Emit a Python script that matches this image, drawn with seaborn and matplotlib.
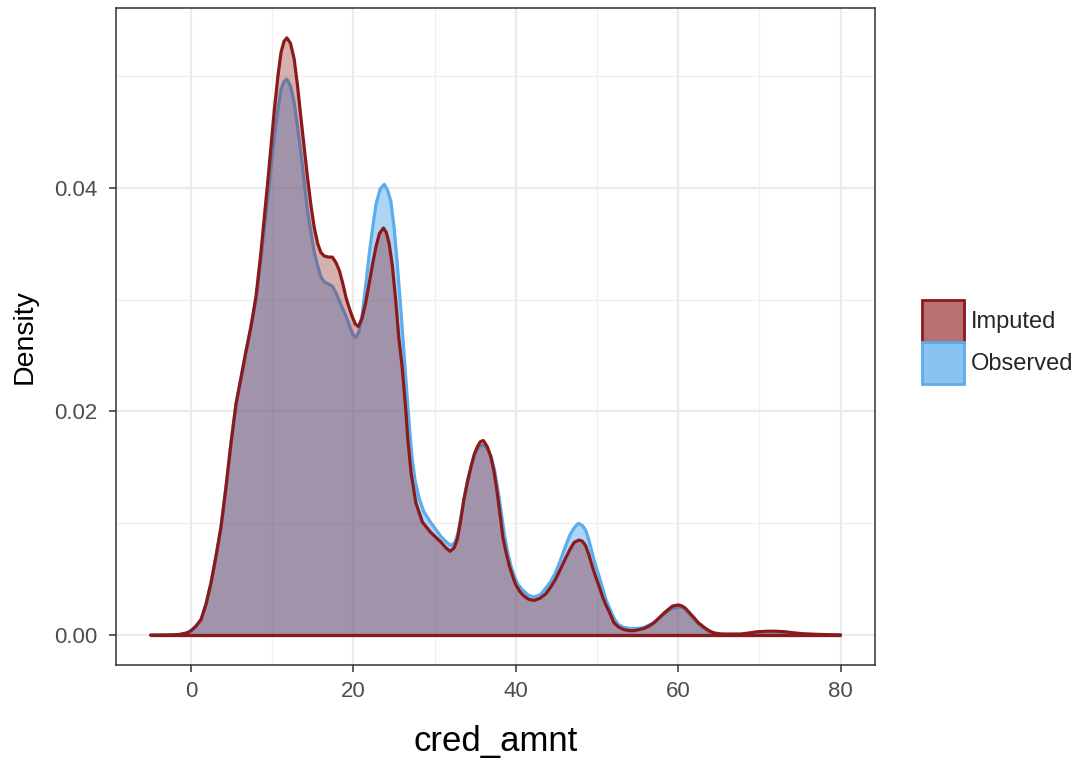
import numpy as np
import pandas as pd
import matplotlib
matplotlib.use("Agg")
import matplotlib.pyplot as plt
from matplotlib.patches import Patch
import seaborn as sns

# ---------------- data ----------------
series_names = ["Imputed", "Observed"]

x_imputed = [-5, -3, -1.5, -0.5, 0, 0.6, 1.23, 1.85, 2.46, 3.08, 3.69, 4.31, 4.92, 5.54,
             6.15, 6.77, 7.38, 8.0, 8.6, 9.0, 9.44, 9.85, 10.26, 10.7, 11.08, 11.45, 11.8,
             12.25, 12.7, 13.1, 13.54, 13.95, 14.36, 14.77, 15.18, 15.6, 16.0, 16.4, 16.9,
             17.4, 17.85, 18.26, 18.67, 19.08, 19.5, 19.9, 20.25, 20.6, 21.05, 21.5, 21.93,
             22.36, 22.8, 23.2, 23.7, 24.05, 24.4, 24.8, 25.2, 25.6, 26.0, 26.46, 26.7, 27.1,
             27.7, 28.5, 29.5, 30.8, 31.4, 31.9, 32.4, 32.8, 33.2, 33.6, 34.05, 34.5, 34.9,
             35.3, 35.65, 36.0, 36.45, 36.9, 37.3, 37.7, 38.15, 38.4, 38.8, 39.2, 39.6, 40.0,
             40.5, 41.0, 41.6, 42.25, 43.0, 43.7, 44.3, 44.9, 45.5, 46.15, 46.7, 47.2, 47.8,
             48.2, 48.6, 49.0, 49.4, 49.8, 50.25, 50.7, 51.1, 51.5, 52.1, 52.7, 53.3, 54.0,
             54.6, 55.2, 55.8, 56.4, 57.0, 57.6, 58.3, 58.8, 59.3, 60.0, 60.5, 60.9, 61.4,
             61.9, 62.5, 63.2, 63.8, 64.4, 65.2, 66.0, 67.7, 68.8, 69.7, 71.0, 72.0, 73.2,
             74.3, 75.5, 76.8, 78.5, 80]
dens_imputed = [0, 0.00001, 0.00005, 0.0002, 0.0004, 0.0008, 0.0014, 0.0028, 0.0047, 0.0071,
                0.0097, 0.0133, 0.0172, 0.0207, 0.0230, 0.0254, 0.0276, 0.0303, 0.0342,
                0.0372, 0.0405, 0.0438, 0.0470, 0.0500, 0.0521, 0.0531, 0.0534, 0.0529,
                0.0515, 0.0492, 0.0462, 0.0435, 0.0408, 0.0384, 0.0364, 0.0350, 0.0342,
                0.0339, 0.0338, 0.0338, 0.0333, 0.0326, 0.0315, 0.0302, 0.0292, 0.0284,
                0.0278, 0.0276, 0.0283, 0.0297, 0.0314, 0.0332, 0.0348, 0.0359, 0.0364,
                0.0360, 0.0350, 0.0330, 0.0300, 0.0265, 0.0240, 0.0200, 0.0175, 0.0145,
                0.0118, 0.0101, 0.0092, 0.0083, 0.0078, 0.0075, 0.0078, 0.0086, 0.0102,
                0.0121, 0.0137, 0.0151, 0.0162, 0.0169, 0.0173, 0.0174, 0.0169, 0.0160,
                0.0147, 0.0128, 0.0103, 0.0088, 0.0074, 0.0062, 0.0053, 0.0045, 0.0039,
                0.0035, 0.0032, 0.0031, 0.0033, 0.0037, 0.0043, 0.0050, 0.0059, 0.0069,
                0.0077, 0.0083, 0.0085, 0.0084, 0.0080, 0.0072, 0.0062, 0.0053, 0.0044,
                0.0034, 0.0027, 0.0021, 0.0011, 0.0007, 0.0005, 0.0004, 0.0004, 0.0005,
                0.0006, 0.0008, 0.0011, 0.0015, 0.0020, 0.0023, 0.0026, 0.0027, 0.0026,
                0.0024, 0.0020, 0.0016, 0.0011, 0.0007, 0.0004, 0.0002, 0.0001, 0.0001,
                0.0001, 0.0002, 0.0003, 0.00035, 0.00035, 0.0003, 0.0002, 0.00012, 0.00008,
                0.00004, 0.00002]

x_observed = [-5, -3, -1.5, -0.5, 0, 0.6, 1.23, 1.85, 2.46, 3.08, 3.69, 4.31, 4.92, 5.54,
              6.15, 6.77, 7.38, 8.0, 8.6, 9.0, 9.44, 9.85, 10.26, 10.7, 11.08, 11.45, 11.8,
              12.25, 12.7, 13.1, 13.54, 13.95, 14.36, 14.77, 15.18, 15.6, 16.0, 16.4, 16.9,
              17.4, 17.85, 18.26, 18.67, 19.08, 19.5, 19.9, 20.3, 20.7, 21.1, 21.5, 21.95,
              22.4, 22.8, 23.3, 23.8, 24.2, 24.6, 25.0, 25.4, 25.8, 26.2, 26.75, 27.2, 27.6,
              28.1, 28.7, 29.5, 30.2, 30.8, 31.5, 32.0, 32.5, 32.9, 33.3, 33.7, 34.1, 34.6,
              35.0, 35.5, 36.0, 36.5, 37.0, 37.4, 37.8, 38.2, 38.6, 39.0, 39.4, 39.8, 40.3,
              40.9, 41.5, 42.2, 43.0, 43.7, 44.3, 44.9, 45.5, 46.15, 46.7, 47.2, 47.7, 48.2,
              48.6, 49.0, 49.4, 49.8, 50.25, 50.7, 51.1, 51.5, 52.1, 52.7, 53.3, 54.0, 54.6,
              55.2, 55.8, 56.4, 57.0, 57.6, 58.3, 58.8, 59.3, 60.0, 60.5, 60.9, 61.4, 61.9,
              62.5, 63.2, 63.8, 64.4, 65.2, 66.0, 68.0, 70.0, 72.0, 75.0, 80]
dens_observed = [0, 0.00001, 0.00005, 0.0002, 0.0004, 0.0008, 0.0014, 0.0028, 0.0047, 0.0071,
                 0.0097, 0.0133, 0.0172, 0.0207, 0.0230, 0.0254, 0.0276, 0.0300, 0.0335,
                 0.0362, 0.0390, 0.0418, 0.0446, 0.0470, 0.0488, 0.0495, 0.0497, 0.0491,
                 0.0476, 0.0455, 0.0431, 0.0404, 0.0378, 0.0360, 0.0342, 0.0330, 0.0320,
                 0.0316, 0.0314, 0.0312, 0.0306, 0.0299, 0.0292, 0.0285, 0.0277, 0.0269,
                 0.0266, 0.0272, 0.0288, 0.0312, 0.0341, 0.0366, 0.0386, 0.0399, 0.0403,
                 0.0398, 0.0388, 0.0365, 0.0332, 0.0295, 0.0255, 0.0200, 0.0160, 0.0138,
                 0.0122, 0.0110, 0.0101, 0.0094, 0.0088, 0.0083, 0.0080, 0.0083, 0.0092,
                 0.0108, 0.0125, 0.0140, 0.0154, 0.0163, 0.0169, 0.0170, 0.0167, 0.0159,
                 0.0147, 0.0130, 0.0110, 0.0090, 0.0074, 0.0062, 0.0053, 0.0045, 0.0040,
                 0.0036, 0.0034, 0.0036, 0.0042, 0.0048, 0.0056, 0.0067, 0.0080, 0.0090,
                 0.0096, 0.0100, 0.0098, 0.0094, 0.0085, 0.0074, 0.0063, 0.0053, 0.0042,
                 0.0032, 0.0025, 0.0015, 0.0009, 0.0007, 0.0006, 0.0006, 0.0006, 0.0007,
                 0.0009, 0.0011, 0.0015, 0.0019, 0.0022, 0.0024, 0.0025, 0.0025, 0.0023,
                 0.0019, 0.0015, 0.0010, 0.0006, 0.0003, 0.0002, 0.0001, 0.00005, 0.00003,
                 0.00002, 0.00002, 0.00001, 0]

x_ticks = [0, 20, 40, 60, 80]
x_tick_labels = ["0", "20", "40", "60", "80"]
y_ticks = [0.00, 0.02, 0.04]
y_tick_labels = ["0.00", "0.02", "0.04"]
x_title = "cred_amnt"
y_title = "Density"

# ---------------- styling ----------------
line_colors = {"Imputed": "#8B1A1A", "Observed": "#5CACEE"}
fill_alphas = {"Imputed": 0.35, "Observed": 0.5}
legend_alphas = {"Imputed": 0.62, "Observed": 0.72}

sns.set_theme(style="white")
plt.rcParams["font.family"] = ["Liberation Sans", "DejaVu Sans"]

fig = plt.figure(figsize=(10.86, 7.63), dpi=100)
ax = fig.add_axes([116 / 1086, 1 - 665 / 763, (875 - 116) / 1086, (665 - 8) / 763])

df = pd.concat([
    pd.DataFrame({"x": x_observed, "density": dens_observed, "group": "Observed"}),
    pd.DataFrame({"x": x_imputed, "density": dens_imputed, "group": "Imputed"}),
], ignore_index=True)

# grid (theme_bw-like)
for v in [10, 30, 50, 70]:
    ax.axvline(v, color="#F0F0F0", lw=1.0, zorder=0)
for v in [0.01, 0.03, 0.05]:
    ax.axhline(v, color="#F0F0F0", lw=1.0, zorder=0)
for v in x_ticks:
    ax.axvline(v, color="#EBEBEB", lw=1.6, zorder=0)
for v in y_ticks:
    ax.axhline(v, color="#EBEBEB", lw=1.6, zorder=0)

z = 2
for name in ["Observed", "Imputed"]:
    sub = df[df["group"] == name]
    col = line_colors[name]
    ax.fill_between(sub["x"], 0, sub["density"], color=col, alpha=fill_alphas[name],
                    linewidth=0, zorder=z)
    sns.lineplot(data=sub, x="x", y="density", color=col, lw=2.3, ax=ax,
                 errorbar=None, zorder=z + 1, sort=True)
    ax.hlines(0, sub["x"].min(), sub["x"].max(), color=col, lw=2.3, zorder=z + 1)
    z += 2

ax.set_xlim(-9.25, 84.25)
ax.set_ylim(-0.00267, 0.05607)
ax.set_xticks(x_ticks)
ax.set_xticklabels(x_tick_labels)
ax.set_yticks(y_ticks)
ax.set_yticklabels(y_tick_labels)
ax.tick_params(axis="both", which="major", length=5, width=1.1, color="#333333",
               labelsize=16, labelcolor="#4D4D4D", direction="out")
ax.tick_params(axis="x", pad=6.2, bottom=True)
ax.tick_params(axis="y", pad=8.5, left=True)

for s in ax.spines.values():
    s.set_color("#333333")
    s.set_linewidth(1.1)
    s.set_visible(True)

ax.set_xlabel(x_title, fontsize=25, color="black", va="center")
ax.xaxis.set_label_coords(0.5, (665 - 741) / 657)
ax.set_ylabel(y_title, fontsize=20.5, color="black", va="center")
ax.yaxis.set_label_coords((25 - 116) / 759, 0.5)

handles = []
for name in series_names:
    col = line_colors[name]
    rgba = matplotlib.colors.to_rgba(col, alpha=legend_alphas[name])
    handles.append(Patch(facecolor=rgba, edgecolor=col, linewidth=2.0, label=name))
fig.legend(handles=handles, loc="center left", bbox_to_anchor=(922 / 1086, 1 - 342 / 763),
           frameon=False, fontsize=17, handlelength=1.78, handleheight=2.36,
           labelspacing=0.0, handletextpad=0.3, borderpad=0, borderaxespad=0)

fig.savefig("out.png", dpi=100)
